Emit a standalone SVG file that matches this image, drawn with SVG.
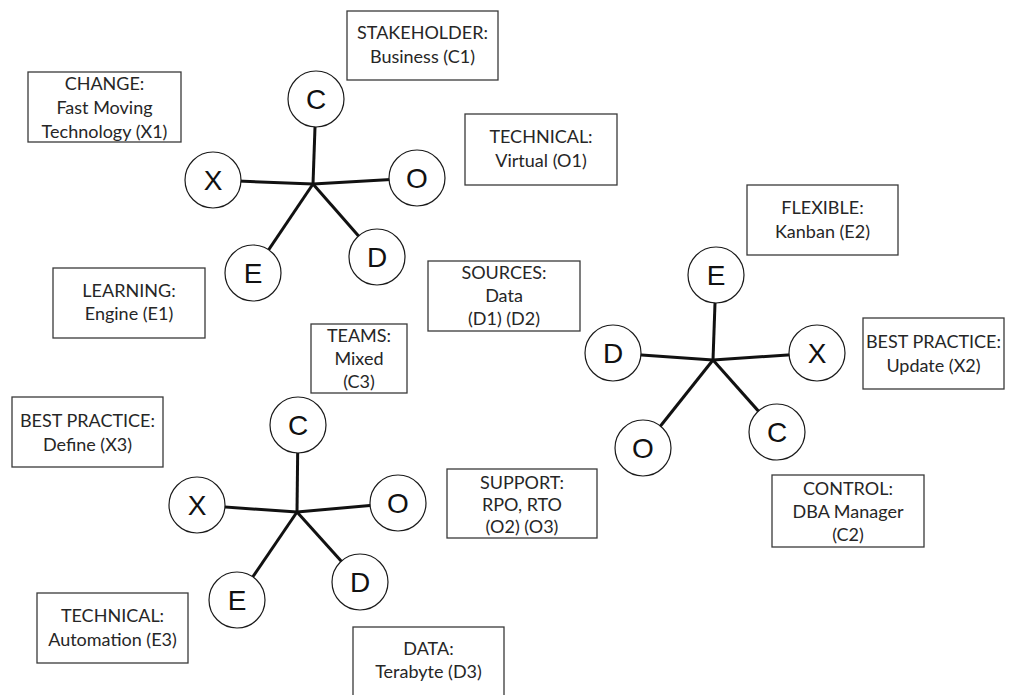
<svg xmlns="http://www.w3.org/2000/svg" width="1009" height="695" viewBox="0 0 1009 695">
  <style>
    .box rect { fill: #ffffff; stroke: #3a3a3a; stroke-width: 1.3; }
    .box text { font-family: Lato, "Liberation Sans", sans-serif; font-size: 18px; fill: #262626; text-anchor: middle; }
    .node circle { fill: #ffffff; stroke: #1a1a1a; stroke-width: 1.2; }
    .node text { font-family: "Liberation Sans", Arial, sans-serif; font-size: 28px; fill: #111111; text-anchor: middle; }
    .spokes line { stroke: #111111; stroke-width: 3; stroke-linecap: butt; }
  </style>
  <rect width="1009" height="695" fill="#ffffff"/>

  <!-- spokes: drawn first, circles cover the ends -->
  <g id="connectors" class="spokes">
    <!-- star 1 -->
    <line x1="313" y1="184" x2="316" y2="99"/>
    <line x1="313" y1="184" x2="213" y2="180"/>
    <line x1="313" y1="184" x2="417" y2="178"/>
    <line x1="313" y1="184" x2="377" y2="257"/>
    <line x1="313" y1="184" x2="253" y2="273"/>
    <!-- star 2 -->
    <line x1="713" y1="360" x2="716" y2="275"/>
    <line x1="713" y1="360" x2="613" y2="353"/>
    <line x1="713" y1="360" x2="817" y2="353"/>
    <line x1="713" y1="360" x2="777" y2="432"/>
    <line x1="713" y1="360" x2="643" y2="448"/>
    <!-- star 3 -->
    <line x1="297" y1="512" x2="298" y2="425"/>
    <line x1="297" y1="512" x2="197" y2="505"/>
    <line x1="297" y1="512" x2="398" y2="503"/>
    <line x1="297" y1="512" x2="360" y2="582"/>
    <line x1="297" y1="512" x2="237" y2="600"/>
  </g>

  <!-- star 1 circles -->
  <g id="s1-c" class="node"><circle cx="316" cy="99" r="28"/><text x="316" y="109">C</text></g>
  <g id="s1-x" class="node"><circle cx="213" cy="180" r="28"/><text x="213" y="190">X</text></g>
  <g id="s1-o" class="node"><circle cx="417" cy="178" r="28"/><text x="417" y="188">O</text></g>
  <g id="s1-d" class="node"><circle cx="377" cy="257" r="28"/><text x="377" y="267">D</text></g>
  <g id="s1-e" class="node"><circle cx="253" cy="273" r="28"/><text x="253" y="283">E</text></g>

  <!-- star 2 circles -->
  <g id="s2-e" class="node"><circle cx="716" cy="275" r="28"/><text x="716" y="285">E</text></g>
  <g id="s2-d" class="node"><circle cx="613" cy="353" r="28"/><text x="613" y="363">D</text></g>
  <g id="s2-x" class="node"><circle cx="817" cy="353" r="28"/><text x="817" y="363">X</text></g>
  <g id="s2-c" class="node"><circle cx="777" cy="432" r="28"/><text x="777" y="442">C</text></g>
  <g id="s2-o" class="node"><circle cx="643" cy="448" r="28"/><text x="643" y="458">O</text></g>

  <!-- star 3 circles -->
  <g id="s3-c" class="node"><circle cx="298" cy="425" r="28"/><text x="298" y="435">C</text></g>
  <g id="s3-x" class="node"><circle cx="197" cy="505" r="28"/><text x="197" y="515">X</text></g>
  <g id="s3-o" class="node"><circle cx="398" cy="503" r="28"/><text x="398" y="513">O</text></g>
  <g id="s3-d" class="node"><circle cx="360" cy="582" r="28"/><text x="360" y="592">D</text></g>
  <g id="s3-e" class="node"><circle cx="237" cy="600" r="28"/><text x="237" y="610">E</text></g>

  <!-- label boxes -->
  <g id="lbl-stakeholder" class="box">
    <rect x="347" y="11" width="151" height="69"/>
    <text x="422.5" y="39">STAKEHOLDER:</text>
    <text x="422.5" y="63">Business (C1)</text>
  </g>
  <g id="lbl-technical-o1" class="box">
    <rect x="465" y="114" width="152" height="71"/>
    <text x="541" y="143">TECHNICAL:</text>
    <text x="541" y="167">Virtual (O1)</text>
  </g>
  <g id="lbl-change" class="box">
    <rect x="28" y="72" width="153" height="70"/>
    <text x="104.5" y="90">CHANGE:</text>
    <text x="104.5" y="114">Fast Moving</text>
    <text x="104.5" y="138">Technology (X1)</text>
  </g>
  <g id="lbl-learning" class="box">
    <rect x="53" y="268" width="152" height="70"/>
    <text x="129" y="297">LEARNING:</text>
    <text x="129" y="320">Engine (E1)</text>
  </g>
  <g id="lbl-sources" class="box">
    <rect x="428" y="261" width="152" height="70"/>
    <text x="504" y="279">SOURCES:</text>
    <text x="504" y="302">Data</text>
    <text x="504" y="325">(D1) (D2)</text>
  </g>
  <g id="lbl-flexible" class="box">
    <rect x="747" y="185" width="151" height="70"/>
    <text x="822.5" y="214">FLEXIBLE:</text>
    <text x="822.5" y="238">Kanban (E2)</text>
  </g>
  <g id="lbl-bp-update" class="box">
    <rect x="863" y="318" width="141" height="71"/>
    <text x="933.5" y="348">BEST PRACTICE:</text>
    <text x="933.5" y="372">Update (X2)</text>
  </g>
  <g id="lbl-teams" class="box">
    <rect x="311" y="324" width="96" height="69"/>
    <text x="359" y="342">TEAMS:</text>
    <text x="359" y="365">Mixed</text>
    <text x="359" y="388">(C3)</text>
  </g>
  <g id="lbl-bp-define" class="box">
    <rect x="12" y="397" width="151" height="70"/>
    <text x="87.5" y="427">BEST PRACTICE:</text>
    <text x="87.5" y="451">Define (X3)</text>
  </g>
  <g id="lbl-support" class="box">
    <rect x="447" y="469" width="150" height="69"/>
    <text x="522" y="489">SUPPORT:</text>
    <text x="522" y="511">RPO, RTO</text>
    <text x="522" y="533">(O2) (O3)</text>
  </g>
  <g id="lbl-control" class="box">
    <rect x="772" y="475" width="152" height="72"/>
    <text x="848" y="495">CONTROL:</text>
    <text x="848" y="518">DBA Manager</text>
    <text x="848" y="541">(C2)</text>
  </g>
  <g id="lbl-technical-e3" class="box">
    <rect x="37" y="593" width="151" height="70"/>
    <text x="112.5" y="622">TECHNICAL:</text>
    <text x="112.5" y="646">Automation (E3)</text>
  </g>
  <g id="lbl-data" class="box">
    <rect x="353" y="627" width="151" height="72"/>
    <text x="428.5" y="655">DATA:</text>
    <text x="428.5" y="678">Terabyte (D3)</text>
  </g>
</svg>
